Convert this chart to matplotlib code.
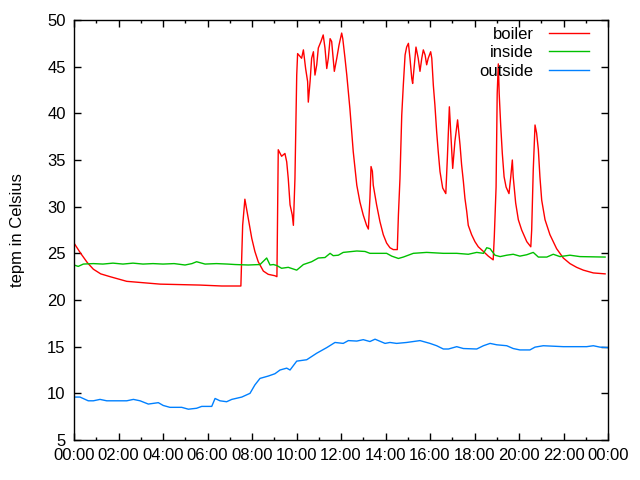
import matplotlib
matplotlib.use("Agg")
import matplotlib.pyplot as plt
import matplotlib.ticker as ticker

# hours since midnight / temperature in Celsius
boiler_t = [0.00, 0.30, 0.60, 0.87, 1.20, 1.62, 2.37, 3.87, 5.66, 6.64, 7.50, 7.58, 7.68,
            7.83, 7.99, 8.13, 8.28, 8.51, 8.73, 9.03, 9.12, 9.18, 9.33,
            9.48, 9.56, 9.63, 9.71, 9.81, 9.86, 9.93, 10.01, 10.05, 10.16,
            10.23, 10.31, 10.41, 10.50, 10.53, 10.61, 10.68, 10.76, 10.83, 10.91,
            10.98, 11.10, 11.20, 11.28, 11.36, 11.43, 11.51, 11.58, 11.65, 11.70,
            11.81, 11.91, 12.03, 12.08, 12.18, 12.26, 12.33, 12.40, 12.48, 12.55,
            12.63, 12.71, 12.85, 13.00, 13.15, 13.23, 13.30, 13.35, 13.41, 13.45,
            13.60, 13.75, 13.90, 14.05, 14.20, 14.35, 14.53, 14.58, 14.65, 14.73,
            14.80, 14.88, 14.95, 15.03, 15.10, 15.18, 15.22, 15.28, 15.37, 15.47,
            15.55, 15.63, 15.70, 15.78, 15.85, 15.92, 16.03, 16.08, 16.15, 16.22,
            16.30, 16.37, 16.45, 16.57, 16.71, 16.78, 16.87, 16.93, 17.02, 17.12,
            17.24, 17.35, 17.42, 17.50, 17.57, 17.65, 17.72, 17.87, 18.02, 18.17,
            18.40, 18.62, 18.84, 18.89, 18.97, 19.02, 19.07, 19.11, 19.18, 19.25,
            19.33, 19.42, 19.55, 19.63, 19.70, 19.74, 19.85, 19.97, 20.12, 20.35,
            20.53, 20.57, 20.64, 20.72, 20.79, 20.87, 20.94, 21.02, 21.17, 21.39,
            21.69, 21.99, 22.29, 22.59, 22.89, 23.34, 23.87]
boiler_v = [26.1, 25.0, 24.0, 23.3, 22.8, 22.5, 22.0, 21.7, 21.6, 21.5, 21.5, 28.0, 30.8,
            28.75, 26.6, 25.2, 24.1, 23.1, 22.75, 22.6, 22.5, 36.1, 35.4,
            35.7, 34.8, 33.0, 30.2, 29.1, 28.0, 33.0, 44.1, 46.4, 46.1,
            45.9, 46.8, 44.8, 43.4, 41.2, 43.4, 45.9, 46.6, 44.1, 45.2,
            47.0, 47.7, 48.4, 47.0, 44.8, 45.9, 48.0, 47.7, 45.9, 44.5,
            45.9, 47.3, 48.6, 48.0, 45.9, 44.1, 42.3, 40.5, 38.0, 35.9,
            34.1, 32.3, 30.5, 29.1, 28.0, 27.6, 30.9, 34.3, 33.8, 32.3,
            30.2, 28.4, 27.0, 26.1, 25.6, 25.4, 25.4, 29.1, 33.0, 39.8,
            43.0, 46.25, 47.1, 47.5, 45.9, 43.75, 43.2, 44.8, 47.1, 45.9,
            44.5, 45.9, 46.8, 46.25, 45.2, 45.9, 46.6, 45.9, 43.0, 40.9,
            38.0, 35.9, 33.75, 32.0, 31.4, 35.2, 40.7, 38.0, 34.1, 37.0,
            39.3, 36.6, 34.5, 32.7, 30.9, 29.5, 28.0, 27.0, 26.25, 25.7,
            25.2, 24.7, 24.3, 26.8, 32.1, 42.1, 45.3, 42.1, 38.6, 35.7,
            33.2, 32.1, 31.4, 33.2, 35.0, 33.2, 30.4, 28.6, 27.5, 26.25,
            25.7, 27.5, 33.9, 38.75, 37.9, 36.1, 33.2, 30.7, 28.6, 27.0,
            25.5, 24.5, 23.9, 23.5, 23.2, 22.9, 22.8]

inside_t = [0.00, 0.19, 0.42, 0.87, 1.30, 1.75, 2.20, 2.65, 3.10, 3.55,
            4.00, 4.50, 4.99, 5.30, 5.51, 5.89, 6.40, 6.90, 7.24, 7.83,
            8.36, 8.66, 8.81, 8.96, 9.11, 9.33, 9.63, 10.01, 10.31, 10.68,
            10.98, 11.28, 11.51, 11.65, 11.88, 12.10, 12.71, 13.08, 13.30, 14.05,
            14.28, 14.58, 14.80, 15.25, 15.85, 16.60, 17.20, 17.72, 18.10, 18.40,
            18.55, 18.70, 18.92, 19.15, 19.45, 19.74, 20.04, 20.35, 20.64, 20.87,
            21.25, 21.54, 21.84, 22.29, 22.74, 23.87]
inside_v = [23.75, 23.6, 23.85, 23.9, 23.85, 23.95, 23.85, 23.95, 23.85, 23.9,
            23.85, 23.9, 23.75, 23.9, 24.1, 23.85, 23.9, 23.85, 23.8, 23.75,
            23.8, 24.5, 23.75, 23.8, 23.7, 23.4, 23.5, 23.2, 23.8, 24.1,
            24.5, 24.55, 25.0, 24.75, 24.8, 25.1, 25.25, 25.2, 25.0, 25.0,
            24.7, 24.45, 24.6, 25.0, 25.1, 25.0, 25.0, 24.9, 25.1, 25.0,
            25.6, 25.5, 24.8, 24.65, 24.8, 24.9, 24.7, 24.85, 25.1, 24.6,
            24.6, 24.9, 24.65, 24.8, 24.65, 24.6]

outside_t = [0.00, 0.27, 0.64, 0.87, 1.17, 1.47, 1.77, 2.37, 2.67, 2.97,
             3.34, 3.79, 4.01, 4.31, 4.84, 5.14, 5.51, 5.74, 6.19, 6.34,
             6.56, 6.86, 7.09, 7.54, 7.91, 8.13, 8.36, 8.73, 9.03, 9.26,
             9.56, 9.71, 10.01, 10.46, 10.91, 11.36, 11.73, 12.10, 12.33, 12.71,
             13.00, 13.30, 13.53, 13.98, 14.20, 14.50, 14.95, 15.55, 16.00, 16.30,
             16.60, 16.83, 17.20, 17.50, 18.10, 18.40, 18.70, 19.00, 19.45, 19.74,
             20.04, 20.49, 20.72, 21.09, 21.99, 23.04, 23.34, 23.64, 24.00]
outside_v = [9.6, 9.6, 9.2, 9.2, 9.35, 9.2, 9.2, 9.2, 9.35, 9.2,
             8.85, 9.0, 8.7, 8.5, 8.5, 8.3, 8.4, 8.6, 8.6, 9.45,
             9.2, 9.1, 9.35, 9.6, 10.0, 10.9, 11.6, 11.85, 12.1, 12.5,
             12.7, 12.5, 13.45, 13.6, 14.3, 14.9, 15.45, 15.35, 15.65, 15.6,
             15.75, 15.55, 15.8, 15.35, 15.45, 15.35, 15.45, 15.65, 15.35, 15.1,
             14.75, 14.75, 15.0, 14.8, 14.75, 15.1, 15.35, 15.2, 15.1, 14.8,
             14.65, 14.65, 14.95, 15.1, 15.0, 15.0, 15.1, 14.95, 14.9]

plt.rcParams["font.family"] = ["Liberation Sans", "DejaVu Sans"]

fig = plt.figure(figsize=(6.4, 4.8), dpi=100)
ax = fig.add_axes([74 / 640, 40 / 480, 534 / 640, 420 / 480])

ax.plot(boiler_t, boiler_v, color="#ff0000", lw=1.0, label="boiler")
ax.plot(inside_t, inside_v, color="#00c000", lw=1.0, label="inside")
ax.plot(outside_t, outside_v, color="#0080ff", lw=1.0, label="outside")

ax.set_xlim(0, 24)
ax.set_ylim(5, 50)
ax.xaxis.set_major_locator(ticker.MultipleLocator(2))
ax.xaxis.set_minor_locator(ticker.MultipleLocator(1))
ax.xaxis.set_major_formatter(
    ticker.FuncFormatter(lambda v, _: f"{int(round(v)) % 24:02d}:00"))
ax.yaxis.set_major_locator(ticker.MultipleLocator(5))

ax.tick_params(which="both", direction="in", top=True, right=True,
               labelsize=12, width=1.0, pad=6)
ax.tick_params(which="major", length=5)
ax.tick_params(which="minor", length=2.5)
for sp in ax.spines.values():
    sp.set_linewidth(1.0)

ax.set_ylabel("tepm in Celsius", fontsize=12, labelpad=16)

ax.legend(loc="upper right", bbox_to_anchor=(0.992, 1.02), frameon=False,
          markerfirst=False, fontsize=12, handlelength=2.4,
          labelspacing=0.22, handletextpad=0.9)

fig.savefig("out.png", dpi=100)
